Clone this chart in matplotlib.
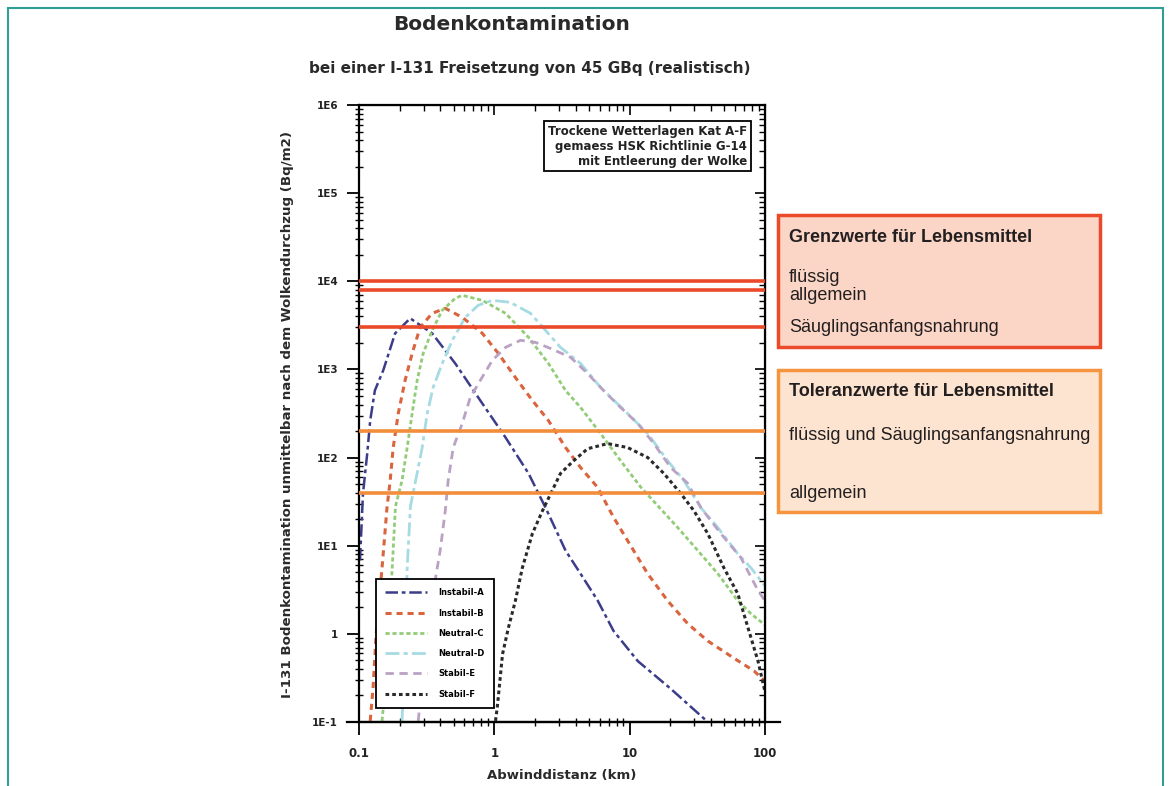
import matplotlib.pyplot as plt
import numpy as np
from matplotlib.patches import Rectangle

# Abwinddistanz (km) und Bodenkontamination (Bq/m2)
xa = [0.1017, 0.107, 0.115, 0.121, 0.131, 0.151, 0.185, 0.239, 0.347, 0.514, 0.815,
      1.21, 1.79, 2.39, 3.36, 4.34, 5.79, 7.6, 11.5, 20, 37.8]
ya = [6.8, 39, 111, 263, 577, 975, 2570, 3800, 2570, 1170, 411,
      169, 66, 27, 8.8, 4.8, 2.4, 1.08, 0.49, 0.24, 0.10]

xb = [0.121, 0.127, 0.134, 0.148, 0.161, 0.170, 0.179, 0.195, 0.219, 0.247, 0.283, 0.347,
      0.434, 0.579, 0.815, 1.07, 1.43, 1.91, 2.51, 3.36, 4.34, 5.79, 7.6, 9.66, 13.6,
      19.1, 26.9, 37.8, 58.9, 82.9, 100]
yb = [0.103, 0.243, 1.0, 5.6, 27, 55, 130, 316, 750, 1520, 3000, 4330,
      4930, 3900, 2570, 1520, 811, 445, 263, 130, 77, 46, 21, 11.4, 4.8,
      2.37, 1.3, 0.83, 0.53, 0.38, 0.29]

xc = [0.148, 0.156, 0.164, 0.176, 0.186, 0.208, 0.227, 0.247, 0.269, 0.298, 0.347, 0.412,
      0.514, 0.579, 0.815, 1.21, 1.79, 2.51, 3.36, 4.34, 6.10, 8.58, 12.1, 16.1, 22.7,
      31.9, 44.9, 63, 78.8, 100]
yc = [0.103, 0.243, 1.0, 5.6, 28, 55, 130, 316, 750, 1520, 2770, 4680,
      6410, 6930, 6080, 4330, 2310, 1170, 577, 370, 187, 92, 46, 28.5, 16,
      8.8, 4.8, 2.37, 1.69, 1.26]

xd = [0.208, 0.219, 0.227, 0.240, 0.274, 0.293, 0.319, 0.353, 0.412, 0.489, 0.610, 0.760,
      0.966, 1.31, 1.85, 2.39, 3.08, 4.34, 6.10, 9.66, 13.6, 19.1, 25.1, 33.6, 44.9,
      63, 78.8, 100]
yd = [0.103, 0.83, 5.6, 28, 77, 130, 316, 624, 1170, 2140, 3900, 5340,
      6080, 5770, 4330, 2770, 1780, 1170, 624, 316, 187, 92, 55, 27, 16,
      8.1, 5.6, 3.5]

xe = [0.274, 0.308, 0.347, 0.372, 0.398, 0.434, 0.456, 0.497, 0.579, 0.664, 0.787, 0.966,
      1.21, 1.56, 2.01, 2.60, 3.66, 4.89, 6.41, 8.58, 11.5, 15.1, 20.1, 26.9, 33.6,
      47.2, 66.4, 88.8, 100]
ye = [0.103, 0.64, 2.37, 4.8, 8.8, 25, 55, 130, 243, 481, 750, 1265,
      1780, 2140, 2030, 1730, 1370, 900, 577, 370, 243, 144, 77, 51, 27,
      13.7, 7.3, 3.1, 2.37]

xf = [1.02, 1.05, 1.15, 1.27, 1.43, 1.61, 1.91, 2.27, 3.08, 3.85, 4.89, 6.87,
      9.66, 13.6, 17.9, 23.9, 29.8, 37.8, 49.7, 63, 74.9, 88.8, 100]
yf = [0.103, 0.144, 0.59, 1.17, 2.37, 5.6, 13.7, 25, 66, 92, 126, 144,
      130, 100, 66, 39, 25, 13.7, 5.6, 2.85, 1.17, 0.49, 0.22]

grenzwerte = [10000, 8000, 3000]
toleranzwerte = [200, 40]

yticks = [0.1, 1, 10, 100, 1000, 10000, 100000, 1000000]
yticklabels = ['1E-1', '1', '1E1', '1E2', '1E3', '1E4', '1E5', '1E6']
xticks = [0.1, 1, 10, 100]
xticklabels = ['0.1', '1', '10', '100']

fig = plt.figure(figsize=(11.69, 7.86), dpi=100)
ax = fig.add_axes([359/1169, 1 - 722/786, 406/1169, 617/786])

ax.plot(xa, ya, color='#3b3d8a', lw=1.8, ls=(0, (5, 1.5, 1.5, 1.5)), label='Instabil-A')
ax.plot(xb, yb, color='#d9643e', lw=2.2, ls=(0, (2, 1.6)), label='Instabil-B')
ax.plot(xc, yc, color='#93cc78', lw=2.0, ls=(0, (1.5, 1)), label='Neutral-C')
ax.plot(xd, yd, color='#a6dbe3', lw=2.0, ls=(0, (5, 1.5, 1.5, 1.5)), label='Neutral-D')
ax.plot(xe, ye, color='#b9a2c4', lw=2.0, ls=(0, (3, 2)), label='Stabil-E')
ax.plot(xf, yf, color='#2a2a2a', lw=2.2, ls=(0, (1.2, 1.0)), label='Stabil-F')

for v in grenzwerte:
    ax.axhline(v, color='#ea4a2a', lw=2.6, zorder=5)
for v in toleranzwerte:
    ax.axhline(v, color='#f28d3c', lw=2.6, zorder=5)

ax.set_xscale('log')
ax.set_yscale('log')
ax.set_xlim(0.1, 100)
ax.set_ylim(0.1, 1e6)
ax.set_xticks(xticks)
ax.set_xticklabels(xticklabels, fontsize=8.5, fontweight='bold', color='#222222')
ax.set_yticks(yticks)
ax.set_yticklabels(yticklabels, fontsize=7.5, fontweight='bold', color='#222222')
ax.tick_params(axis='both', which='major', direction='out', length=9, width=1.3)
ax.tick_params(axis='y', which='major', pad=6)
ax.tick_params(axis='x', which='major', pad=9)
ax.tick_params(axis='both', which='minor', direction='inout', length=6, width=1.0)
for s in ax.spines.values():
    s.set_linewidth(1.6)
ax.plot([-0.03, 1.037], [0, 0], color='black', lw=1.6, transform=ax.transAxes, clip_on=False)

# Ticks oben und rechts nach innen
secx = ax.secondary_xaxis('top')
secx.set_xticks(xticks)
secx.set_xticklabels([])
secx.tick_params(which='major', direction='in', length=7, width=1.2)
secx.tick_params(which='minor', direction='in', length=4, width=1.0)
secy = ax.secondary_yaxis('right')
secy.set_yticks(yticks)
secy.set_yticklabels([])
secy.tick_params(which='major', direction='in', length=7, width=1.2)
secy.tick_params(which='minor', direction='in', length=4, width=1.0)

leg = ax.legend(loc='lower left', bbox_to_anchor=(0.042, 0.023), borderaxespad=0,
                prop={'size': 6, 'weight': 'bold'}, handlelength=5.0, handletextpad=1.4,
                labelspacing=1.35, fancybox=False, edgecolor='black', framealpha=1,
                borderpad=1.1)
leg.get_frame().set_linewidth(1.3)

ax.text(0.956, 0.9335, 'Trockene Wetterlagen Kat A-F\ngemaess HSK Richtlinie G-14\nmit Entleerung der Wolke',
        transform=ax.transAxes, ha='right', va='center', multialignment='right',
        fontsize=8.5, fontweight='bold', linespacing=1.2, color='#222222',
        bbox=dict(boxstyle='square,pad=0.3', fc='white', ec='black', lw=1.3))

fig.text(512/1169, 1 - 25/786, 'Bodenkontamination', ha='center', va='center',
         fontsize=14.5, fontweight='bold', color='#2a2a2a')
fig.text(530/1169, 1 - 68/786, 'bei einer I-131 Freisetzung von 45 GBq (realistisch)',
         ha='center', va='center', fontsize=11, fontweight='bold', color='#2a2a2a')
fig.text(287/1169, 1 - 414/786, 'I-131 Bodenkontamination unmittelbar nach dem Wolkendurchzug (Bq/m2)',
         ha='center', va='center', rotation=90, fontsize=9.6, fontweight='bold', color='#2a2a2a')
fig.text(562/1169, 1 - 775/786, 'Abwinddistanz (km)', ha='center', va='center',
         fontsize=9.5, fontweight='bold', color='#2a2a2a')

# Kästen rechts
fig.add_artist(Rectangle((778/1169, 1 - 347/786), 322/1169, 132/786, transform=fig.transFigure,
                         fc='#fbd6c6', ec='#ea4a2a', lw=2.5))
fig.add_artist(Rectangle((778/1169, 1 - 512/786), 322/1169, 142/786, transform=fig.transFigure,
                         fc='#fde4d0', ec='#f5953f', lw=2.5))

bx = 789/1169
fs = 13
fig.text(bx, 1 - 238/786, 'Grenzwerte für Lebensmittel', fontsize=fs, fontweight='bold',
         family='Liberation Sans', va='center', color='#231f20')
fig.text(bx, 1 - 277/786, 'flüssig', fontsize=fs, family='Liberation Sans', va='center', color='#231f20')
fig.text(bx, 1 - 296/786, 'allgemein', fontsize=fs, family='Liberation Sans', va='center', color='#231f20')
fig.text(bx, 1 - 328/786, 'Säuglingsanfangsnahrung', fontsize=fs, family='Liberation Sans', va='center', color='#231f20')
fig.text(bx, 1 - 391/786, 'Toleranzwerte für Lebensmittel', fontsize=fs, fontweight='bold',
         family='Liberation Sans', va='center', color='#231f20')
fig.text(bx, 1 - 435/786, 'flüssig und Säuglingsanfangsnahrung', fontsize=fs, family='Liberation Sans',
         va='center', color='#231f20')
fig.text(bx, 1 - 493/786, 'allgemein', fontsize=fs, family='Liberation Sans', va='center', color='#231f20')

# Rahmen
fig.add_artist(Rectangle((8/1169, -0.05), 1155/1169, 1.05 - 8/786, transform=fig.transFigure,
                         fill=False, ec='#2f9f95', lw=1.5))

fig.savefig('out.png', dpi=100)
